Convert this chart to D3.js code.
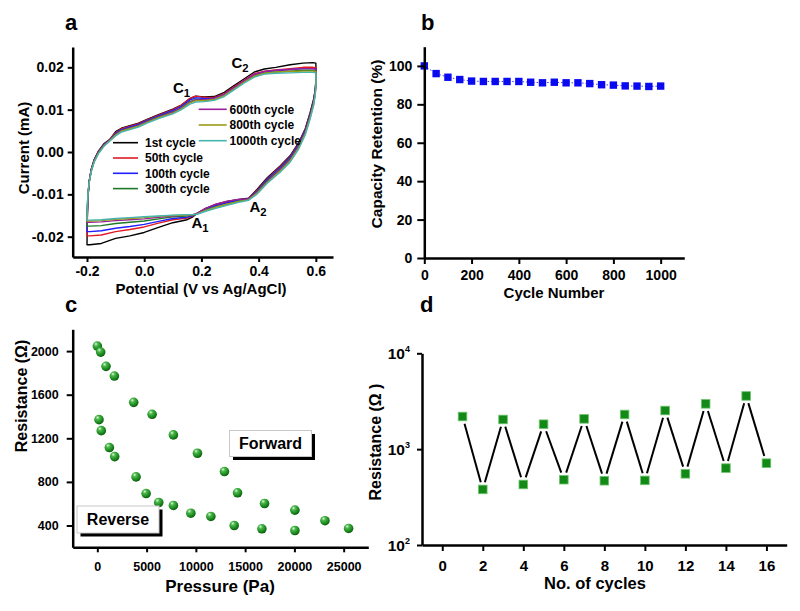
<!DOCTYPE html>
<html><head><meta charset="utf-8">
<script src="https://cdn.jsdelivr.net/npm/d3@7"></script>
<style>
body{margin:0;background:#fff;}
svg text{font-family:"Liberation Sans",Arial,Helvetica,sans-serif;font-weight:bold;fill:#000;}
</style></head><body>
<svg id="chart" width="800" height="611"></svg>
<script>
// ---------------- DATA ----------------
// Panel a: cyclic voltammograms (closed loop, shared potential grid)
const cvPotential = [-0.200,-0.199,-0.197,-0.192,-0.185,-0.175,-0.160,-0.140,-0.120,-0.100,-0.080,-0.050,-0.020,0.010,0.050,0.100,0.130,0.160,0.180,0.210,0.245,0.280,0.310,0.350,0.385,0.420,0.460,0.510,0.555,0.590,0.600,
  0.601,0.598,0.592,0.580,0.563,0.540,0.510,0.475,0.430,0.395,0.365,
  0.330,0.290,0.250,0.215,0.185,
  0.170,0.150,0.100,0.050,0.000,-0.050,-0.100,-0.150,-0.190,-0.200];
const cv1st = [-0.0219,-0.0165,-0.0110,-0.0068,-0.0040,-0.0018,0.0002,0.0020,0.0030,0.0048,0.0056,0.0062,0.0068,0.0077,0.0088,0.0101,0.0111,0.0126,0.0132,0.0130,0.0131,0.0141,0.0155,0.0173,0.0189,0.0196,0.0200,0.0206,0.0210,0.0211,0.0210,
  0.0180,0.0148,0.0124,0.0093,0.0055,0.0022,-0.0009,-0.0033,-0.0061,-0.0088,-0.0109,
  -0.0112,-0.0117,-0.0124,-0.0133,-0.0145,
  -0.0153,-0.0160,-0.0167,-0.0178,-0.0190,-0.0198,-0.0204,-0.0216,-0.0219,-0.0219];
const cv50th = [-0.0198,-0.0155,-0.0108,-0.0068,-0.0041,-0.0019,0.0001,0.0019,0.0030,0.0046,0.0055,0.0061,0.0067,0.0076,0.0087,0.0100,0.0111,0.0127,0.0132,0.0129,0.0129,0.0138,0.0152,0.0170,0.0185,0.0191,0.0194,0.0197,0.0200,0.0200,0.0199,
  0.0176,0.0146,0.0122,0.0091,0.0053,0.0020,-0.0011,-0.0035,-0.0063,-0.0090,-0.0110,
  -0.0113,-0.0118,-0.0125,-0.0134,-0.0145,
  -0.0151,-0.0156,-0.0160,-0.0168,-0.0177,-0.0183,-0.0188,-0.0196,-0.0198,-0.0198];
const cv100th = [-0.0188,-0.0150,-0.0106,-0.0068,-0.0042,-0.0020,0.0000,0.0018,0.0029,0.0044,0.0053,0.0059,0.0065,0.0074,0.0085,0.0098,0.0108,0.0123,0.0128,0.0126,0.0127,0.0136,0.0150,0.0168,0.0183,0.0189,0.0192,0.0195,0.0197,0.0197,0.0196,
  0.0174,0.0144,0.0120,0.0089,0.0051,0.0018,-0.0013,-0.0037,-0.0065,-0.0092,-0.0111,
  -0.0114,-0.0120,-0.0127,-0.0135,-0.0145,
  -0.0150,-0.0154,-0.0157,-0.0164,-0.0171,-0.0176,-0.0180,-0.0186,-0.0188,-0.0188];
const cv300th = [-0.0175,-0.0143,-0.0104,-0.0069,-0.0043,-0.0021,-0.0001,0.0017,0.0028,0.0042,0.0051,0.0057,0.0063,0.0072,0.0083,0.0095,0.0105,0.0119,0.0124,0.0123,0.0125,0.0134,0.0148,0.0166,0.0180,0.0186,0.0189,0.0191,0.0193,0.0193,0.0192,
  0.0171,0.0141,0.0117,0.0086,0.0048,0.0015,-0.0016,-0.0040,-0.0068,-0.0094,-0.0112,
  -0.0116,-0.0123,-0.0130,-0.0137,-0.0146,
  -0.0149,-0.0151,-0.0153,-0.0158,-0.0163,-0.0166,-0.0169,-0.0174,-0.0175,-0.0175];
const cv600th = [-0.0166,-0.0138,-0.0102,-0.0069,-0.0044,-0.0022,-0.0002,0.0016,0.0028,0.0041,0.0050,0.0056,0.0062,0.0071,0.0082,0.0094,0.0104,0.0118,0.0123,0.0123,0.0126,0.0136,0.0150,0.0168,0.0183,0.0190,0.0193,0.0195,0.0197,0.0197,0.0196,
  0.0172,0.0140,0.0115,0.0084,0.0046,0.0013,-0.0018,-0.0042,-0.0070,-0.0095,-0.0111,
  -0.0112,-0.0116,-0.0123,-0.0133,-0.0145,
  -0.0148,-0.0149,-0.0151,-0.0154,-0.0158,-0.0160,-0.0162,-0.0165,-0.0166,-0.0166];
const cv800th = [-0.0163,-0.0136,-0.0101,-0.0070,-0.0045,-0.0023,-0.0003,0.0015,0.0027,0.0040,0.0049,0.0055,0.0061,0.0070,0.0081,0.0092,0.0102,0.0116,0.0121,0.0121,0.0124,0.0133,0.0147,0.0165,0.0179,0.0186,0.0189,0.0190,0.0191,0.0191,0.0190,
  0.0168,0.0137,0.0112,0.0081,0.0043,0.0010,-0.0021,-0.0045,-0.0072,-0.0097,-0.0113,
  -0.0117,-0.0123,-0.0130,-0.0138,-0.0146,
  -0.0148,-0.0149,-0.0150,-0.0152,-0.0155,-0.0157,-0.0159,-0.0162,-0.0163,-0.0163];
const cv1000th = [-0.0161,-0.0134,-0.0100,-0.0071,-0.0046,-0.0024,-0.0004,0.0014,0.0026,0.0038,0.0047,0.0053,0.0059,0.0068,0.0079,0.0090,0.0100,0.0113,0.0118,0.0119,0.0122,0.0131,0.0145,0.0163,0.0177,0.0184,0.0186,0.0187,0.0188,0.0188,0.0187,
  0.0165,0.0134,0.0109,0.0078,0.0040,0.0007,-0.0024,-0.0048,-0.0074,-0.0099,-0.0114,
  -0.0119,-0.0126,-0.0133,-0.0140,-0.0147,
  -0.0148,-0.0148,-0.0149,-0.0151,-0.0153,-0.0155,-0.0157,-0.0160,-0.0161,-0.0161];
const cvLabels = ["1st cycle","50th cycle","100th cycle","300th cycle","600th cycle","800th cycle","1000th cycle"];
const cvColors = ["#000000","#e01b24","#1f1fff","#1e7a28","#9b1f9b","#9c9c14","#46b4b0"];
const cvPotentialTicks = [-0.2,0.0,0.2,0.4,0.6];
const cvCurrentTicks = [-0.02,-0.01,0.00,0.01,0.02];

// Panel b: capacity retention
const retentionCycles = [0,50,100,150,200,250,300,350,400,450,500,550,600,650,700,750,800,850,900,950,1000];
const retentionValues = [100,96.0,94.1,92.9,92.1,91.9,91.9,91.9,91.9,91.5,91.2,91.5,91.2,91.2,90.8,90.2,90.0,89.6,89.5,89.3,89.5];
const retentionXTicks = [0,200,400,600,800,1000];
const retentionYTicks = [0,20,40,60,80,100];

// Panel c: resistance vs pressure
const forwardPressure = [0,340,880,1730,3690,5560,7720,10160,12900,14230,16970,20050,23100,25500];
const forwardResistance = [2046,1991,1860,1771,1530,1420,1231,1063,895,700,602,541,444,373];
const reversePressure = [170,400,1220,1760,3930,4950,6230,7720,9490,11520,13890,16700,20050];
const reverseResistance = [1371,1270,1115,1032,846,693,611,584,513,483,400,370,354];
const pressureTicks = [0,5000,10000,15000,20000,25000];
const resistanceTicks = [400,800,1200,1600,2000];

// Panel d: switching cycles
const switchCycles = [1,2,3,4,5,6,7,8,9,10,11,12,13,14,15,16];
const switchResistance = [2190,380,2040,428,1820,480,2070,468,2300,472,2530,553,2970,634,3590,714];
const cycleTicks = [0,2,4,6,8,10,12,14,16];
const logTicks = [100,1000,10000];
const logExponents = ["2","3","4"];

// ---------------- DRAWING ----------------
const svg = d3.select("#chart");
const FF = '"Liberation Sans",Arial,Helvetica,sans-serif';

function styleAxis(g, fs){
  g.attr("font-family", FF).attr("font-size", fs).attr("font-weight","bold");
  g.select(".domain").attr("stroke","#000").attr("stroke-width",2.5);
  g.selectAll(".tick line").attr("stroke","#000").attr("stroke-width",2);
  g.selectAll(".tick text").attr("fill","#000");
}
function panelLabel(t,x,y){
  svg.append("text").attr("x",x).attr("y",y).attr("font-size",22).text(t);
}
function sub(textSel, main, subs){
  textSel.append("tspan").text(main);
  textSel.append("tspan").attr("font-size","0.75em").attr("dy",4).text(subs);
}

// ===== Panel a =====
const xA = d3.scaleLinear().domain([-0.25,0.66]).range([72.7,333]);
const yA = d3.scaleLinear().domain([-0.0248,0.0248]).range([257,47]);
const cvSeries = [cv1st,cv50th,cv100th,cv300th,cv600th,cv800th,cv1000th];
const cvLine = d3.line().x(d=>xA(d[0])).y(d=>yA(d[1])).curve(d3.curveLinearClosed);
const gA = svg.append("g");
cvSeries.forEach((s,i)=>{
  const pts = cvPotential.map((v,k)=>[v,s[k]]);
  gA.append("path").attr("d",cvLine(pts)).attr("fill","none")
    .attr("stroke",cvColors[i]).attr("stroke-width",1.4).attr("stroke-linejoin","round");
});
const axA_y = svg.append("g").attr("transform","translate(72.7,0)")
  .call(d3.axisLeft(yA).tickValues(cvCurrentTicks).tickFormat(d=>d.toFixed(2)).tickSize(5).tickPadding(4).tickSizeOuter(0));
styleAxis(axA_y,14);
const axA_x = svg.append("g").attr("transform","translate(0,257)")
  .call(d3.axisBottom(xA).tickValues(cvPotentialTicks).tickFormat(d=>d.toFixed(1)).tickSize(5).tickPadding(4).tickSizeOuter(0));
styleAxis(axA_x,14);
svg.append("text").attr("transform","translate(29,148) rotate(-90)").attr("text-anchor","middle").attr("font-size",15).text("Current (mA)");
svg.append("text").attr("x",201).attr("y",294).attr("text-anchor","middle").attr("font-size",15).text("Potential (V vs Ag/AgCl)");
// legend
cvLabels.forEach((lab,i)=>{
  const left = i<4;
  const y = left ? 142.7 + i*15.3 : 109.3 + (i-4)*15.7;
  const x0 = left ? 113 : 198.7, x1 = left ? 138 : 226.7, tx = left ? 145 : 229.5;
  gA.append("line").attr("x1",x0).attr("x2",x1).attr("y1",y).attr("y2",y).attr("stroke",cvColors[i]).attr("stroke-width",1.6);
  gA.append("text").attr("x",tx).attr("y",y+4.3).attr("font-size",12).text(lab);
});
// peak labels
sub(svg.append("text").attr("x",173).attr("y",93).attr("font-size",15),"C","1");
sub(svg.append("text").attr("x",231.5).attr("y",68).attr("font-size",15),"C","2");
sub(svg.append("text").attr("x",191.5).attr("y",228).attr("font-size",15),"A","1");
sub(svg.append("text").attr("x",249.5).attr("y",212).attr("font-size",15),"A","2");
panelLabel("a",65,30);

// ===== Panel b =====
const xB = d3.scaleLinear().domain([0,1100]).range([424.3,684.3]);
const yB = d3.scaleLinear().domain([0,110]).range([258,46.7]);
svg.append("path").attr("d",d3.line().x((d,i)=>xB(retentionCycles[i])).y(d=>yB(d))(retentionValues))
  .attr("fill","none").attr("stroke","#3a3aff").attr("stroke-width",1).attr("stroke-dasharray","1.5,2");
svg.append("g").selectAll("rect").data(retentionValues).join("rect")
  .attr("x",(d,i)=>xB(retentionCycles[i])-3.7).attr("y",d=>yB(d)-3.7)
  .attr("width",7.4).attr("height",7.4).attr("fill","#0a0af0");
const axB_y = svg.append("g").attr("transform","translate(424.3,0)")
  .call(d3.axisLeft(yB).tickValues(retentionYTicks).tickFormat(d3.format("d")).tickSize(7).tickPadding(5).tickSizeOuter(0));
styleAxis(axB_y,14);
const axB_x = svg.append("g").attr("transform","translate(0,258)")
  .call(d3.axisBottom(xB).tickValues(retentionXTicks).tickFormat(d3.format("d")).tickSize(6).tickPadding(6).tickSizeOuter(0));
styleAxis(axB_x,14);
svg.append("text").attr("transform","translate(382,144) rotate(-90)").attr("text-anchor","middle").attr("font-size",15.5).text("Capacity Retention (%)");
svg.append("text").attr("x",554).attr("y",298).attr("text-anchor","middle").attr("font-size",15).text("Cycle Number");
panelLabel("b",421,30);

// ===== Panel c =====
const xC = d3.scaleLinear().domain([-2500,27500]).range([72.7,368.3]);
const yC = d3.scaleLinear().domain([200,2200]).range([547.3,329.3]);
const defs = svg.append("defs");
const grad = defs.append("radialGradient").attr("id","ball").attr("cx","38%").attr("cy","32%").attr("r","70%").attr("fx","35%").attr("fy","28%");
grad.append("stop").attr("offset","0%").attr("stop-color","#e4f8e4");
grad.append("stop").attr("offset","28%").attr("stop-color","#4cb84c");
grad.append("stop").attr("offset","75%").attr("stop-color","#17841a");
grad.append("stop").attr("offset","100%").attr("stop-color","#0a560c");
const gC = svg.append("g");
gC.selectAll("circle.f").data(forwardResistance).join("circle").attr("class","f")
  .attr("cx",(d,i)=>xC(forwardPressure[i])).attr("cy",d=>yC(d)).attr("r",4.8).attr("fill","url(#ball)");
gC.selectAll("circle.r").data(reverseResistance).join("circle").attr("class","r")
  .attr("cx",(d,i)=>xC(reversePressure[i])).attr("cy",d=>yC(d)).attr("r",4.8).attr("fill","url(#ball)");
const axC_y = svg.append("g").attr("transform","translate(72.7,0)")
  .call(d3.axisLeft(yC).tickValues(resistanceTicks).tickFormat(d3.format("d")).tickSize(6).tickPadding(8).tickSizeOuter(0));
styleAxis(axC_y,12.5);
const axC_x = svg.append("g").attr("transform","translate(0,547.3)")
  .call(d3.axisBottom(xC).tickValues(pressureTicks).tickFormat(d3.format("d")).tickSize(5).tickPadding(10).tickSizeOuter(0));
styleAxis(axC_x,12.5);
svg.append("text").attr("transform","translate(27,396) rotate(-90)").attr("text-anchor","middle").attr("font-size",16).text("Resistance (Ω)");
svg.append("text").attr("x",220).attr("y",592).attr("text-anchor","middle").attr("font-size",17).text("Pressure (Pa)");
function tagBox(x,y,w,h,label){
  svg.append("rect").attr("x",x+3.5).attr("y",y+3.5).attr("width",w).attr("height",h).attr("fill","#000");
  svg.append("rect").attr("x",x).attr("y",y).attr("width",w).attr("height",h).attr("fill","#fff").attr("stroke","#c8c8c8").attr("stroke-width",1);
  svg.append("text").attr("x",x+w/2).attr("y",y+h/2+5.5).attr("text-anchor","middle").attr("font-size",16).text(label);
}
tagBox(229.5,430.5,82,26,"Forward");
tagBox(77,506,82,27,"Reverse");
panelLabel("c",65,312);

// ===== Panel d =====
const xD = d3.scaleLinear().domain([-1,17]).range([422,786.7]);
const yD = d3.scaleLog().domain([100,10000]).range([545,353.3]);
const gD = svg.append("g");
for(let i=0;i<switchCycles.length-1;i++){
  const x1=xD(switchCycles[i]), y1=yD(switchResistance[i]);
  const x2=xD(switchCycles[i+1]), y2=yD(switchResistance[i+1]);
  const L=Math.hypot(x2-x1,y2-y1), g=7.5;
  const ux=(x2-x1)/L, uy=(y2-y1)/L;
  gD.append("line").attr("x1",x1+ux*g).attr("y1",y1+uy*g).attr("x2",x2-ux*g).attr("y2",y2-uy*g)
    .attr("stroke","#000").attr("stroke-width",2);
}
gD.selectAll("rect").data(switchResistance).join("rect")
  .attr("x",(d,i)=>xD(switchCycles[i])-4.3).attr("y",d=>yD(d)-4.3).attr("width",8.6).attr("height",8.6)
  .attr("fill","#138a17").attr("stroke","#6fc46f").attr("stroke-width",0.8);
const axD_y = svg.append("g").attr("transform","translate(422,0)")
  .call(d3.axisLeft(yD).tickValues(logTicks).tickFormat("").tickSize(5).tickSizeOuter(0));
styleAxis(axD_y,15);
logTicks.forEach((t,i)=>{
  const tx = svg.append("text").attr("x",410).attr("y",yD(t)+6).attr("text-anchor","end").attr("font-size",15.5);
  tx.append("tspan").text("10");
  tx.append("tspan").attr("font-size",9).attr("dy",-7).text(logExponents[i]);
});
const axD_x = svg.append("g").attr("transform","translate(0,545)")
  .call(d3.axisBottom(xD).tickValues(cycleTicks).tickFormat(d3.format("d")).tickSize(6).tickPadding(9).tickSizeOuter(0));
styleAxis(axD_x,15);
svg.append("text").attr("transform","translate(381,442) rotate(-90)").attr("text-anchor","middle").attr("font-size",16).text("Resistance (Ω )");
svg.append("text").attr("x",595).attr("y",589).attr("text-anchor","middle").attr("font-size",16.5).text("No. of cycles");
panelLabel("d",420,312);
</script>
</body></html>
